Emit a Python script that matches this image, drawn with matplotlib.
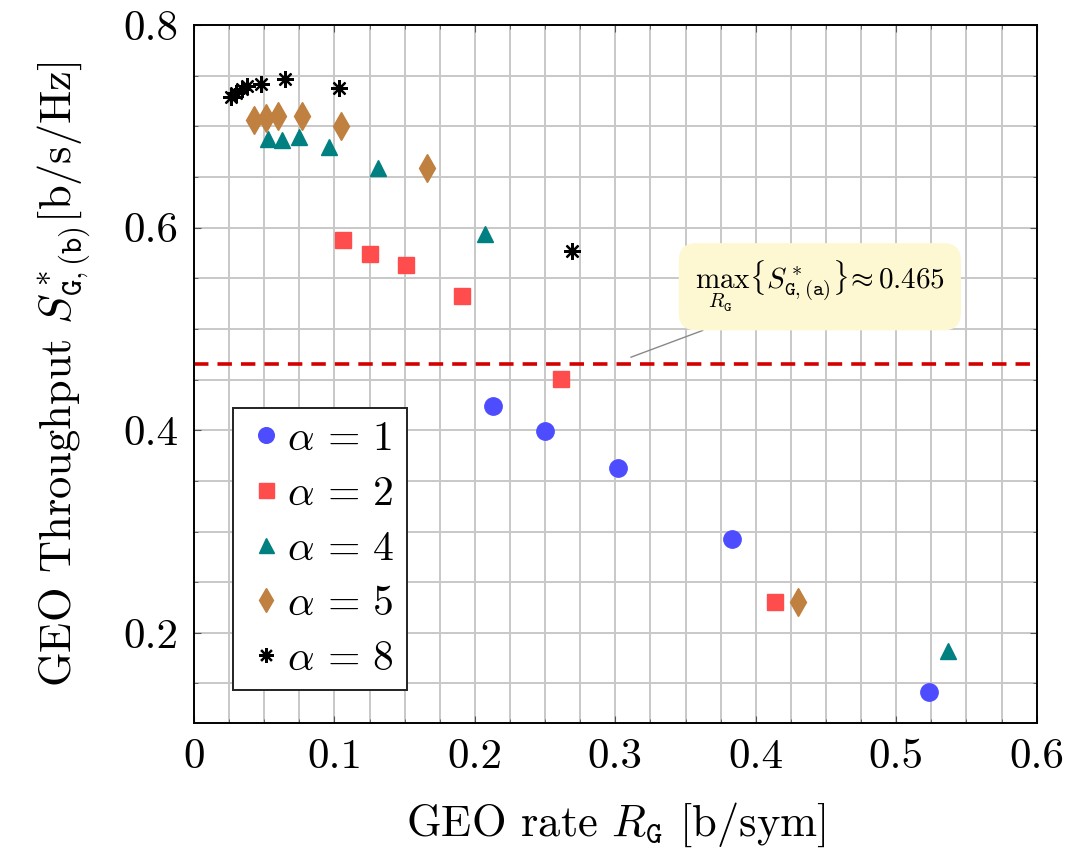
import matplotlib
matplotlib.use("Agg")
import matplotlib.pyplot as plt
from matplotlib.ticker import MultipleLocator

plt.rcParams['font.family'] = 'serif'
plt.rcParams['font.serif'] = ['cmr10']
plt.rcParams['mathtext.fontset'] = 'cm'
plt.rcParams['axes.formatter.use_mathtext'] = True

# data
r_a1 = [0.213, 0.250, 0.302, 0.383, 0.523]
s_a1 = [0.424, 0.399, 0.363, 0.293, 0.142]

r_a2 = [0.106, 0.125, 0.151, 0.191, 0.261, 0.414]
s_a2 = [0.588, 0.574, 0.563, 0.532, 0.451, 0.230]

r_a4 = [0.053, 0.063, 0.075, 0.096, 0.131, 0.207, 0.537]
s_a4 = [0.687, 0.686, 0.689, 0.680, 0.659, 0.594, 0.182]

r_a5 = [0.043, 0.051, 0.060, 0.077, 0.105, 0.166, 0.430]
s_a5 = [0.706, 0.708, 0.710, 0.710, 0.700, 0.659, 0.230]

r_a8 = [0.026, 0.030, 0.034, 0.038, 0.048, 0.065, 0.103, 0.269]
s_a8 = [0.729, 0.733, 0.737, 0.740, 0.742, 0.747, 0.738, 0.577]

x_ticks = [0, 0.1, 0.2, 0.3, 0.4, 0.5, 0.6]
x_labels = ['0', '0.1', '0.2', '0.3', '0.4', '0.5', '0.6']
y_ticks = [0.2, 0.4, 0.6, 0.8]
y_labels = ['0.2', '0.4', '0.6', '0.8']

s_max_a = 0.465

fig = plt.figure(figsize=(10.79, 8.61), dpi=100)
ax = fig.add_axes([0.1798, 0.1603, 0.781, 0.8107])

ax.plot(r_a1, s_a1, ls='none', marker='o', ms=12.5, color='#4d4dff', mec='#4d4dff', label=r'$\alpha\,=\,1$', zorder=3)
ax.plot(r_a2, s_a2, ls='none', marker='s', ms=12, color='#ff4d4d', mec='#ff4d4d', label=r'$\alpha\,=\,2$', zorder=3)
ax.plot(r_a4, s_a4, ls='none', marker='^', ms=12, color='#008080', mec='#008080', label=r'$\alpha\,=\,4$', zorder=3)
ax.plot(r_a5, s_a5, ls='none', marker='d', ms=14, color='#bf8040', mec='#bf8040', label=r'$\alpha\,=\,5$', zorder=3)
ax.plot(r_a8, s_a8, ls='none', marker=(8, 2, 0), ms=12, mew=1.6, color='black', label=r'$\alpha\,=\,8$', zorder=3)

ax.axhline(s_max_a, color='#d40000', ls=(0, (4, 2.5)), lw=2.6, zorder=2)

ax.annotate(r'$\max_{R_{\mathtt{G}}}\{S^*_{\mathtt{G},\mathtt{(a)}}\}\!\approx 0.465$',
            xy=(0.311, 0.472), xytext=(0.4456, 0.5416), fontsize=21,
            ha='center', va='center',
            bbox=dict(boxstyle='round,pad=0.55,rounding_size=0.6', fc='#fdf8d2', ec='none'),
            arrowprops=dict(arrowstyle='-', color='#888888', lw=1, shrinkA=0, shrinkB=0),
            zorder=4)

ax.set_xlim(0, 0.6)
ax.set_ylim(0.111, 0.8)
ax.set_xticks(x_ticks)
ax.set_xticklabels(x_labels)
ax.xaxis.set_minor_locator(MultipleLocator(0.025))
ax.set_yticks(y_ticks)
ax.set_yticklabels(y_labels)
ax.yaxis.set_minor_locator(MultipleLocator(0.05))
ax.grid(True, which='both', color='#c8c8c8', lw=1.4, zorder=0)
ax.set_axisbelow(True)
ax.tick_params(which='both', direction='in', top=True, right=True, labelsize=31, color='#555555')
ax.tick_params(which='major', length=5, pad=11)
ax.tick_params(which='minor', length=3)
for sp in ax.spines.values():
    sp.set_linewidth(1.4)

ax.set_xlabel(r'GEO rate $R_{\mathtt{G}}$ [b/sym]', fontsize=32, labelpad=18)
ax.set_ylabel(r'GEO Throughput $S^*_{\mathtt{G},\mathtt{(b)}}$[b/s/Hz]', fontsize=32, labelpad=22)

leg = ax.legend(loc='lower left', bbox_to_anchor=(0.046, 0.047), fontsize=30, frameon=True,
                fancybox=False, edgecolor='#222222', framealpha=1, handletextpad=0.0,
                handlelength=1.0, borderpad=0.3, labelspacing=0.42, markerscale=0.9,
                borderaxespad=0)
leg.get_frame().set_linewidth(1.4)

fig.savefig('out.png', dpi=100)
